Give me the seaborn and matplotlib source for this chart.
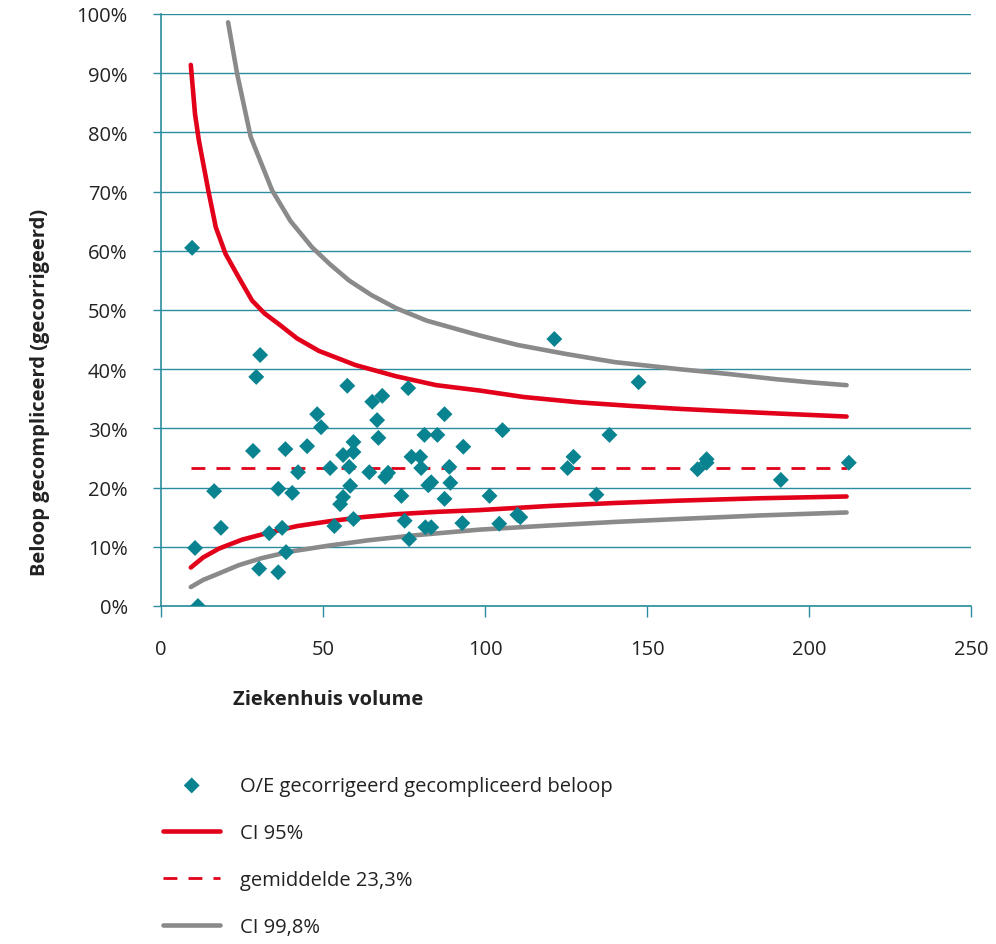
import matplotlib
matplotlib.use("Agg")
import matplotlib.pyplot as plt
import seaborn as sns
from matplotlib.ticker import FuncFormatter, MultipleLocator

# hospital volume vs. O/E corrected complicated course (%)
volume = [9.6, 10.5, 11.4, 16.4, 18.5, 28.4, 30.6, 29.4, 30.3, 33.4, 36.2, 36.2, 37.4,
          38.4, 38.6, 40.5, 42.3, 45.1, 48.2, 49.4, 52.2, 53.5, 55.3, 56.2, 56.2, 57.5,
          58.1, 58.4, 59.4, 59.4, 59.4, 64.3, 65.2, 66.7, 67.1, 68.3, 69.2, 70.1, 74.2,
          75.2, 76.3, 76.6, 77.3, 80.0, 80.3, 81.3, 81.6, 82.5, 83.4, 83.4, 85.3, 87.5,
          87.5, 89.0, 89.3, 93.3, 93.0, 101.4, 104.4, 105.4, 110.0, 110.9, 121.4, 125.5,
          127.3, 134.4, 138.4, 147.4, 165.6, 168.4, 168.4, 191.3, 212.3]
rate = [60.5, 9.8, 0.0, 19.4, 13.2, 26.2, 42.4, 38.7, 6.3, 12.3, 5.7, 19.8, 13.2,
        26.5, 9.1, 19.1, 22.6, 27.0, 32.4, 30.2, 23.3, 13.5, 17.2, 18.4, 25.5, 37.2,
        23.5, 20.3, 27.7, 26.0, 14.7, 22.6, 34.5, 31.4, 28.4, 35.5, 21.8, 22.5, 18.6,
        14.4, 36.8, 11.3, 25.2, 25.2, 23.3, 28.9, 13.3, 20.4, 20.9, 13.3, 28.9, 32.4,
        18.1, 23.5, 20.8, 26.9, 14.0, 18.6, 13.9, 29.7, 15.4, 15.0, 45.1, 23.3,
        25.2, 18.8, 28.9, 37.8, 23.1, 24.8, 24.2, 21.3, 24.2]

# control limits
ci95_hi_x = [9.2, 10.5, 11.7, 14.6, 16.9, 19.9, 24.0, 28.1, 32.0, 36.4, 42.0, 48.7, 60.0,
             72.6, 85.0, 98.3, 112.0, 129.0, 145.0, 160.0, 175.0, 191.0, 211.6]
ci95_hi_y = [91.4, 83.1, 78.6, 70.2, 64.0, 59.5, 55.5, 51.6, 49.4, 47.6, 45.2, 43.1, 40.7,
             38.8, 37.3, 36.4, 35.3, 34.4, 33.8, 33.3, 32.9, 32.5, 32.0]
ci95_lo_x = [9.2, 13.0, 17.9, 25.0, 33.3, 42.0, 51.8, 62.0, 72.3, 85.0, 98.3, 120.0,
             140.0, 160.0, 185.0, 211.6]
ci95_lo_y = [6.5, 8.2, 9.7, 11.2, 12.4, 13.5, 14.3, 15.0, 15.5, 15.9, 16.2, 16.9,
             17.4, 17.8, 18.2, 18.5]
ci998_hi_x = [20.7, 23.5, 27.7, 34.3, 40.0, 46.6, 52.0, 58.0, 65.0, 72.6, 82.0, 98.3,
              110.0, 124.7, 140.0, 160.0, 175.0, 190.0, 200.0, 211.6]
ci998_hi_y = [98.6, 89.9, 79.2, 70.2, 65.0, 60.6, 57.8, 55.0, 52.5, 50.3, 48.2, 45.7,
              44.1, 42.6, 41.2, 40.0, 39.2, 38.3, 37.8, 37.3]
ci998_lo_x = [9.2, 13.0, 17.9, 24.0, 31.2, 40.0, 51.8, 64.0, 77.5, 98.3, 120.0, 140.0,
              160.0, 185.0, 211.6]
ci998_lo_y = [3.2, 4.4, 5.5, 6.9, 8.1, 9.2, 10.2, 11.1, 11.9, 12.9, 13.6, 14.2,
              14.7, 15.3, 15.8]
mean_x = [9.2, 211.6]
mean_y = [23.3, 23.3]

TEAL = "#0a8391"
GRID = "#2a8c9c"
RED = "#e2001a"
GREY = "#8a8a8a"
TXT = "#222222"

sns.set_theme(style="white")
plt.rcParams["font.family"] = ["Open Sans", "DejaVu Sans"]

fig = plt.figure(figsize=(9.96, 9.45), dpi=100)
ax = fig.add_axes([161 / 996, 338 / 945, 810 / 996, 592 / 945])

sns.scatterplot(x=volume, y=rate, ax=ax, marker="D", s=66, color=TEAL,
                edgecolor="none", label="O/E gecorrigeerd gecompliceerd beloop", zorder=5)
sns.lineplot(x=ci95_hi_x, y=ci95_hi_y, ax=ax, color=RED, linewidth=3.3, label="CI 95%", zorder=4)
sns.lineplot(x=ci95_lo_x, y=ci95_lo_y, ax=ax, color=RED, linewidth=3.3, zorder=4)
sns.lineplot(x=mean_x, y=mean_y, ax=ax, color=RED, linewidth=2.0, dashes=(5, 4),
             label="gemiddelde 23,3%", zorder=4)
sns.lineplot(x=ci998_hi_x, y=ci998_hi_y, ax=ax, color=GREY, linewidth=3.3, label="CI 99,8%", zorder=3)
sns.lineplot(x=ci998_lo_x, y=ci998_lo_y, ax=ax, color=GREY, linewidth=3.3, zorder=3)
for l in ax.lines:
    l.set_solid_capstyle("round")
    l.set_solid_joinstyle("round")

ax.set_xlim(0, 250)
ax.set_ylim(0, 100)
ax.xaxis.set_major_locator(MultipleLocator(50))
ax.yaxis.set_major_locator(MultipleLocator(10))
ax.yaxis.set_major_formatter(FuncFormatter(lambda v, p: f"{int(v)}%"))
ax.grid(axis="y", color=GRID, linewidth=1.0)
ax.set_axisbelow(True)

for s in ["top", "right"]:
    ax.spines[s].set_visible(False)
for s in ["left", "bottom"]:
    ax.spines[s].set_color(GRID)
    ax.spines[s].set_linewidth(1.2)

ax.tick_params(axis="y", direction="out", length=6, width=1.0, color=GRID,
               pad=18, labelsize=14.5, labelcolor=TXT)
ax.tick_params(axis="x", direction="out", length=8, width=1.0, color=GRID,
               pad=16, labelsize=14.5, labelcolor=TXT)
ax.tick_params(left=True, bottom=True)
ax.set_xlabel("")
ax.set_ylabel("")

fig.text(40 / 996, 1 - 392 / 945, "Beloop gecompliceerd (gecorrigeerd)", rotation=90,
         ha="center", va="center", fontsize=14.5, fontweight="bold", color=TXT)
fig.text(233 / 996, 1 - 700 / 945, "Ziekenhuis volume", ha="left", va="center",
         fontsize=14.5, fontweight="bold", color=TXT)

handles, labels = ax.get_legend_handles_labels()
ax.get_legend().remove()
fig.legend(handles, labels, loc="center left", bbox_to_anchor=(163 / 996, 1 - 857.5 / 945),
           frameon=False, fontsize=14.5, labelspacing=1.35, handlelength=2.85,
           handletextpad=0.95, borderpad=0, borderaxespad=0, scatterpoints=1,
           labelcolor=TXT)

fig.savefig("out.png", dpi=100)
